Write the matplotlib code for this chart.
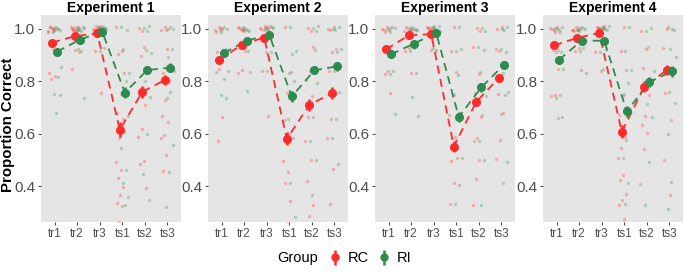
import numpy as np
import matplotlib
matplotlib.use("Agg")
import matplotlib.pyplot as plt
from matplotlib.offsetbox import HPacker

plt.rcParams["font.family"] = ["Liberation Sans", "DejaVu Sans"]

conditions = ["tr1", "tr2", "tr3", "ts1", "ts2", "ts3"]
experiments = ["Experiment 1", "Experiment 2", "Experiment 3", "Experiment 4"]
groups = ["RC", "RI"]

# group means per experiment (rows) and condition (columns)
rc_mean = [
    [0.948, 0.972, 0.983, 0.615, 0.760, 0.805],
    [0.880, 0.940, 0.967, 0.580, 0.710, 0.755],
    [0.922, 0.975, 0.980, 0.551, 0.722, 0.813],
    [0.937, 0.965, 0.985, 0.607, 0.780, 0.843],
]
ri_mean = [
    [0.913, 0.958, 0.990, 0.757, 0.843, 0.852],
    [0.908, 0.955, 0.978, 0.742, 0.842, 0.857],
    [0.903, 0.943, 0.985, 0.663, 0.777, 0.863],
    [0.882, 0.955, 0.955, 0.685, 0.797, 0.838],
]
# standard errors
rc_se = [
    [0.010, 0.008, 0.008, 0.028, 0.022, 0.020],
    [0.015, 0.012, 0.012, 0.025, 0.022, 0.022],
    [0.012, 0.008, 0.008, 0.020, 0.018, 0.016],
    [0.012, 0.008, 0.010, 0.025, 0.020, 0.020],
]
ri_se = [
    [0.014, 0.010, 0.008, 0.022, 0.016, 0.016],
    [0.012, 0.010, 0.010, 0.020, 0.016, 0.016],
    [0.012, 0.010, 0.010, 0.018, 0.016, 0.014],
    [0.016, 0.010, 0.012, 0.022, 0.020, 0.020],
]

# raw participant scores (approximate)
rc_raw = [
    [[1, 1, 1, 1, 1, 1, 1, 1, 0.92, 0.92, 0.84, 0.82, 0.80],
     [1, 1, 1, 1, 1, 1, 1, 1, 1, 0.92, 0.92, 0.84],
     [1, 1, 1, 1, 1, 1, 1, 1, 1, 0.92, 0.75],
     [1, 0.92, 0.90, 0.84, 0.75, 0.67, 0.66, 0.58, 0.50, 0.46, 0.44, 0.40, 0.36, 0.34, 0.32, 0.27],
     [1, 1, 0.92, 0.90, 0.84, 0.78, 0.75, 0.72, 0.62, 0.58, 0.50, 0.48, 0.40],
     [1, 1, 1, 0.92, 0.84, 0.80, 0.72, 0.67, 0.64, 0.60, 0.58, 0.53, 0.46]],
    [[1, 1, 1, 1, 1, 0.92, 0.92, 0.84, 0.84, 0.66, 0.58],
     [1, 1, 1, 1, 1, 1, 0.92, 0.92, 0.84, 0.84],
     [1, 1, 1, 1, 1, 1, 0.92, 0.84, 0.66],
     [1, 0.84, 0.75, 0.66, 0.60, 0.58, 0.50, 0.45, 0.42, 0.34, 0.27],
     [1, 1, 0.92, 0.84, 0.80, 0.75, 0.66, 0.58, 0.50, 0.41, 0.33, 0.28],
     [1, 1, 1, 0.92, 0.92, 0.84, 0.75, 0.66, 0.58, 0.47, 0.33]],
    [[1, 1, 1, 1, 1, 0.92, 0.92, 0.83, 0.83, 0.75],
     [1, 1, 1, 1, 1, 1, 0.92, 0.92, 0.83],
     [1, 1, 1, 1, 1, 1, 0.92, 0.92],
     [1, 0.92, 0.83, 0.75, 0.67, 0.58, 0.50, 0.50, 0.42, 0.33],
     [1, 1, 0.92, 0.83, 0.75, 0.67, 0.58, 0.58, 0.50, 0.42, 0.33],
     [1, 1, 0.92, 0.92, 0.83, 0.75, 0.67, 0.58, 0.50]],
    [[1, 1, 1, 1, 1, 0.92, 0.92, 0.84, 0.75, 0.74],
     [1, 1, 1, 1, 1, 1, 0.92, 0.92, 0.84],
     [1, 1, 1, 1, 1, 1, 0.92, 0.84],
     [1, 0.92, 0.84, 0.75, 0.67, 0.58, 0.55, 0.50, 0.45, 0.42, 0.38, 0.35, 0.32, 0.28],
     [1, 0.92, 0.84, 0.75, 0.66, 0.64, 0.60, 0.55, 0.41],
     [1, 0.92, 0.84, 0.75, 0.66, 0.60, 0.49, 0.37]],
]
ri_raw = [
    [[1, 1, 1, 1, 1, 1, 0.92, 0.90, 0.86, 0.81, 0.76, 0.745, 0.67],
     [1, 1, 1, 1, 1, 1, 1, 0.92, 0.92, 0.745],
     [1, 1, 1, 1, 1, 1, 1, 1, 0.92, 0.92],
     [1, 1, 0.92, 0.84, 0.80, 0.75, 0.67, 0.60, 0.55, 0.46, 0.42, 0.36, 0.32],
     [1, 1, 1, 0.92, 0.90, 0.84, 0.80, 0.75, 0.60, 0.44, 0.35],
     [1, 1, 1, 0.92, 0.90, 0.84, 0.75, 0.74, 0.55, 0.46, 0.32]],
    [[1, 1, 1, 1, 0.92, 0.92, 0.84, 0.80, 0.75, 0.73],
     [1, 1, 1, 1, 1, 0.92, 0.92, 0.84, 0.76],
     [1, 1, 1, 1, 1, 1, 0.92, 0.84],
     [1, 0.92, 0.90, 0.84, 0.80, 0.75, 0.66, 0.58, 0.42, 0.28],
     [1, 1, 1, 0.92, 0.84, 0.80, 0.66, 0.58, 0.50, 0.36],
     [1, 1, 1, 0.92, 0.92, 0.84, 0.75, 0.66, 0.58, 0.49]],
    [[1, 1, 1, 1, 1, 0.92, 0.92, 0.83, 0.83, 0.67],
     [1, 1, 1, 1, 1, 1, 0.92, 0.92, 0.83, 0.75, 0.67],
     [1, 1, 1, 1, 1, 1, 1, 0.92, 0.92],
     [1, 0.92, 0.92, 0.83, 0.75, 0.67, 0.58, 0.50, 0.41, 0.33],
     [1, 1, 0.92, 0.92, 0.83, 0.75, 0.67, 0.58, 0.50, 0.32],
     [1, 1, 1, 0.92, 0.92, 0.83, 0.75, 0.75, 0.67, 0.50, 0.41]],
    [[1, 1, 1, 1, 1, 0.92, 0.92, 0.84, 0.75, 0.73, 0.67, 0.66],
     [1, 1, 1, 1, 1, 1, 0.92, 0.92, 0.83],
     [1, 1, 1, 1, 1, 1, 0.92, 0.92, 0.84],
     [1, 0.92, 0.84, 0.80, 0.75, 0.67, 0.58, 0.50, 0.42, 0.33],
     [1, 1, 0.92, 0.84, 0.80, 0.72, 0.66, 0.50, 0.33],
     [1, 1, 1, 0.92, 0.90, 0.84, 0.75, 0.72, 0.41, 0.32]],
]

RED = "#FF2B2B"
GREEN = "#2E8B4E"
BG = "#E5E5E5"
TXT = "#4D4D4D"

fig = plt.figure(figsize=(6.85, 2.72), dpi=100)
W, H = 685.0, 272.0
lefts = [41, 208, 375, 543]
pw = 140

x = np.arange(len(conditions))
dodge = 0.11

for e, name in enumerate(experiments):
    ax = fig.add_axes([lefts[e] / W, (H - 222) / H, pw / W, 207 / H])
    ax.set_facecolor(BG)
    for s in ax.spines.values():
        s.set_visible(False)

    # raw points with a fixed (non-random) jitter pattern
    for raw, col, off in [(rc_raw[e], RED, -dodge), (ri_raw[e], GREEN, dodge)]:
        for c, vals in enumerate(raw):
            k = np.arange(len(vals))
            jx = (((k * 0.618 + e * 0.21 + c * 0.37) % 1.0) - 0.5) * 0.4
            jy = (((k * 0.414 + c * 0.29) % 1.0) - 0.5) * 0.02
            ax.scatter(c + off + jx, np.array(vals) + jy, s=6, color=col,
                       alpha=0.3, linewidths=0, zorder=2)

    for m, se, col, off in [(rc_mean[e], rc_se[e], RED, -dodge),
                            (ri_mean[e], ri_se[e], GREEN, dodge)]:
        xs = x + off
        ax.plot(xs, m, color=col, ls=(0, (4.5, 3)), lw=1.3, zorder=3)
        ax.errorbar(xs, m, yerr=se, fmt="o", color=col, ms=5.5, elinewidth=1.8,
                    capsize=0, zorder=4)

    ax.set_xlim(-0.6, 5.6)
    ax.set_ylim(0.263, 1.053)
    ax.set_xticks(x)
    ax.set_xticklabels(conditions)
    ax.set_yticks([0.4, 0.6, 0.8, 1.0])
    ax.set_yticklabels(["0.4", "0.6", "0.8", "1.0"])
    ax.tick_params(axis="y", labelsize=11, colors=TXT, length=2.5, pad=1.5)
    ax.tick_params(axis="x", labelsize=8.5, colors=TXT, length=2.5, pad=1.5)
    ax.set_title(name, fontsize=10, fontweight="bold", pad=2.5)

fig.text(8 / W, (H - 125) / H, "Proportion Correct", rotation=90,
         fontsize=10.8, fontweight="bold", ha="center", va="center")

eb_handles = []
for col in [RED, GREEN]:
    h = ax.errorbar([], [], yerr=[], fmt="o", color=col, ms=5, elinewidth=1.8)
    eb_handles.append(h)
leg = fig.legend(eb_handles, groups, loc="center", bbox_to_anchor=(0.503, 0.05),
                 ncol=2, frameon=False, fontsize=10.5, title="Group",
                 title_fontsize=10.5, handlelength=0.8, handletextpad=0.5,
                 columnspacing=0.6)
# put the legend title left of the entries, as in ggplot
box = leg._legend_box
box._children = [HPacker(children=box._children, align="center", pad=0, sep=8)]

fig.savefig("out.png", dpi=100)
